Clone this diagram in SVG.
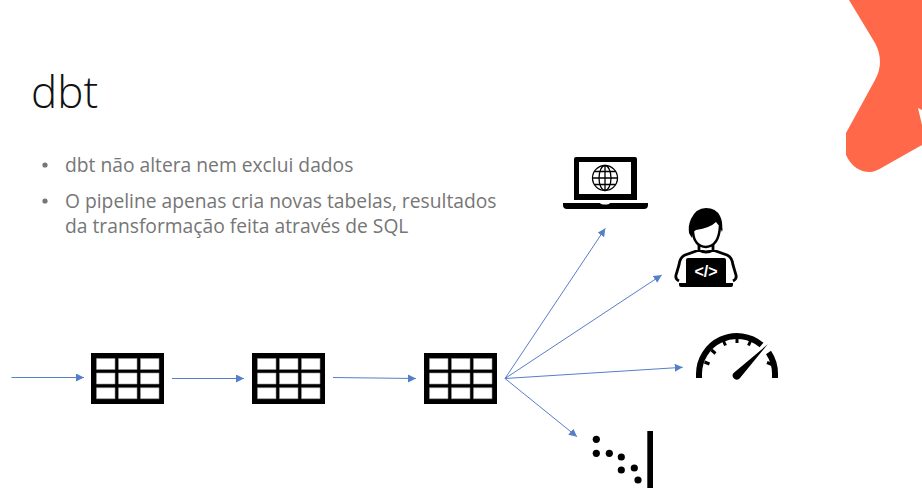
<svg xmlns="http://www.w3.org/2000/svg" width="922" height="488" viewBox="0 0 922 488">
<style>
.title{font-family:"Open Sans","Noto Sans",sans-serif;font-weight:300;font-size:44px;fill:#111}
.body{font-family:"Open Sans","Noto Sans",sans-serif;font-size:19.250px;fill:#767676}
.conn{fill:none;stroke:#4472c4;stroke-width:1;opacity:.9}
.k{fill:#000}
.w{fill:#fff}
</style>
<defs>
<marker id="arrow" markerUnits="userSpaceOnUse" markerWidth="9" markerHeight="9" refX="8" refY="4" orient="auto">
<path d="M0,0 L8,4 L0,8 Z" fill="#4472c4"/>
</marker>
<g id="tbl">
<rect x="0" y="0" width="73" height="51" fill="#000"/>
<path d="M5.500,5.500h18.500v11h-18.500z M27.500,5.500h18.500v11h-18.500z M49.500,5.500h18.500v11h-18.500z M5.500,20h18.500v11h-18.500z M27.500,20h18.500v11h-18.500z M49.500,20h18.500v11h-18.500z M5.500,34.700h18.500v11h-18.500z M27.500,34.700h18.500v11h-18.500z M49.500,34.700h18.500v11h-18.500z" fill="#fff" stroke="#999" stroke-width=".6"/>
</g>
</defs>
<rect width="922" height="488" fill="#fff"/>
<path id="accent" d="M849,0 L875,43 Q885,62 875,80 L846,133 L846,155 Q854,172 870,172 Q875,172 883,167 L922,145 L922,125 L918,108 L922,110 L922,0 Z" fill="#ff6849"/>
<text class="title" x="31" y="108">dbt</text>
<g id="bullets">
<circle cx="45" cy="165" r="2.600" fill="#767676"/>
<circle cx="45" cy="201" r="2.600" fill="#767676"/>
<text class="body" x="65" y="171.500">dbt não altera nem exclui dados</text>
<text class="body" x="65" y="208">O pipeline apenas cria novas tabelas, resultados</text>
<text class="body" x="65" y="232.500">da transformação feita através de SQL</text>
</g>
<g id="connectors">
<path class="conn" marker-end="url(#arrow)" d="M11.500,377.500 L84,377.500"/>
<path class="conn" marker-end="url(#arrow)" d="M172,378.500 L244,378.500"/>
<path class="conn" marker-end="url(#arrow)" d="M333,377.500 L416,378.500"/>
<path class="conn" marker-end="url(#arrow)" d="M505,378.500 L605.300,228.300"/>
<path class="conn" marker-end="url(#arrow)" d="M505,378.500 L661.700,275"/>
<path class="conn" marker-end="url(#arrow)" d="M505,378.500 L682.700,367.300"/>
<path class="conn" marker-end="url(#arrow)" d="M505,378.500 L577,436.700"/>
</g>
<use id="table1" href="#tbl" x="91" y="353"/>
<use id="table2" href="#tbl" x="252" y="353"/>
<use id="table3" href="#tbl" x="424" y="353"/>
<g id="laptop">
<path class="k" d="M576,157H635Q637,157 637,159V200H574V159Q574,157 576,157Z M579,162V194H631V162Z" fill-rule="evenodd"/>
<path class="k" d="M563,203H600Q601,204.500 605,204.500Q609,204.500 610,203H648V205Q648,209 644,209H567Q563,209 563,205Z"/>
<g fill="none" stroke="#000" stroke-width="1.300">
<circle cx="605" cy="178" r="12.500"/>
<ellipse cx="605" cy="178" rx="6" ry="12.500"/>
<path d="M605,165.500V190.500 M592.500,178H617.500 M594.500,171.500H615.500 M594.500,184.500H615.500"/>
</g>
</g>
<g id="developer">
<path class="k" d="M689,233 Q688,225 691,219 Q696,208 706,208 Q716,208 720,216 Q723,222 722,229 L723,227 L722,232 Q720,226 716,222 Q710,228 696,230 Q693,231 692,238 Q690,235 689,233Z"/>
<path d="M693,232 Q694,246 706,247 Q719,246 720,226" fill="none" stroke="#000" stroke-width="2.500"/>
<path d="M699,245 V250 L685,255 Q680,257 679,265 L676,275 Q675,279 679,281 M713,245 V250 L727,255 Q732,257 733,265 L736,275 Q737,279 733,281 M699,250 Q706,254 713,250" fill="none" stroke="#000" stroke-width="2.800"/>
<path class="k" d="M688,258H724Q726,258 726,260V283H686V260Q686,258 688,258Z"/>
<path class="k" d="M679,283H733V285Q733,287 731,287H681Q679,287 679,285Z"/>
<text x="706" y="277" text-anchor="middle" font-family="'Liberation Sans',sans-serif" font-weight="700" font-size="16px" fill="#fff">&lt;/&gt;</text>
</g>
<g id="gauge">
<path d="M699,378 V374 A38,38 0 0 1 761.500,345 M768.500,352.500 A38,38 0 0 1 775,374 V378" fill="none" stroke="#000" stroke-width="6"/>
<path d="M704.500,362L709.500,364 M711.500,350L715.500,353.500 M723.500,341L725.500,345.500 M737,337V343 M750.500,341L748.500,345.500 M767,362.500L772,364.500" stroke="#000" stroke-width="3" fill="none"/>
<path class="k" d="M767.700,344.300 L740,378 A3.800,3.800 0 0 1 733.600,373 Z"/>
</g>
<g id="scatter">
<circle class="k" cx="596.300" cy="439.300" r="3.600"/>
<circle class="k" cx="596.300" cy="453.300" r="3.600"/>
<circle class="k" cx="609.300" cy="453.300" r="3.600"/>
<circle class="k" cx="621.300" cy="457" r="3.600"/>
<circle class="k" cx="621.300" cy="470" r="3.600"/>
<circle class="k" cx="634.300" cy="468" r="3.600"/>
<circle class="k" cx="638" cy="480" r="3.600"/>
<rect class="k" x="647.300" y="431" width="5.700" height="57"/>
</g>
</svg>
